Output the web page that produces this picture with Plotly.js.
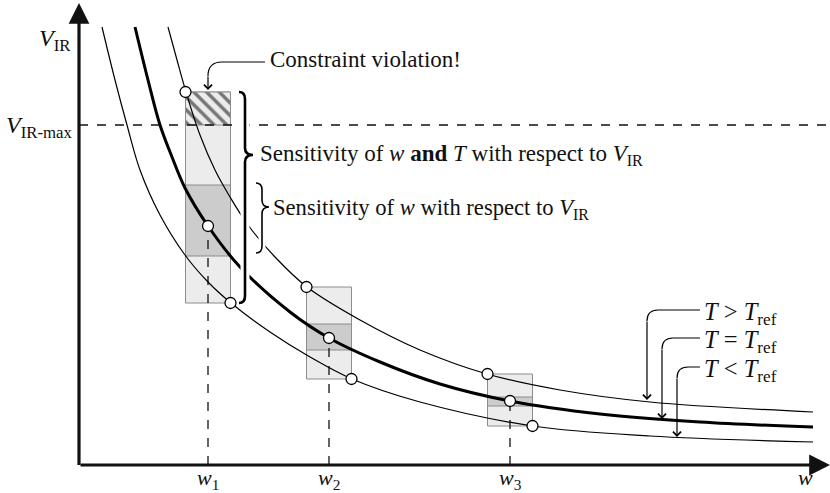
<!DOCTYPE html>
<html>
<head>
<meta charset="utf-8">
<script src="https://cdn.plot.ly/plotly-3.0.1.min.js"></script>
<style>html,body{margin:0;padding:0;background:#fff;}#chart{width:830px;height:493px;}</style>
</head>
<body>
<div id="chart"></div>
<script>
// ---- data (schematic units: w to the right, V_IR upwards) ----
var upperW = [89, 98, 107, 121, 136, 151, 169, 196, 228, 281, 341, 408, 481, 571, 734];
var upperV = [438, 405, 373, 330, 295, 268, 240, 208, 178, 145, 115, 91, 75, 63, 53];
var refW   = [56, 69, 81, 93, 106, 129, 161, 211, 250, 301, 361, 431, 521, 621, 734];
var refV   = [438, 385, 340, 308, 277, 239, 198, 153, 127, 103, 81, 64, 51, 43, 38];
var lowerW = [23, 36, 48, 61, 81, 106, 129, 152, 191, 231, 273, 341, 454, 571, 734];
var lowerV = [438, 385, 340, 295, 250, 210, 183, 162, 133, 108, 86, 63, 39, 29, 23];

var opW      = [129, 250, 431];          // w1, w2, w3
var opLabels = ['1', '2', '3'];
var boxHalf  = [22.5, 22.5, 22.5];
var ptUpper  = [373, 178, 91];           // T > Tref points
var ptRef    = [239, 127, 64];           // T = Tref points
var ptLower  = [162, 86, 39];            // T < Tref points
var darkHigh = [280, 141, 68];
var darkLow  = [209, 115, 59];
var vMax     = 340;                      // V_IR-max

var serif = 'Liberation Serif';
var traces = [];

// light boxes (whole sensitivity of w and T)
traces.push({type:'bar', x:opW, base:ptLower,
  y:ptUpper.map(function(u,i){return u-ptLower[i];}),
  width:boxHalf.map(function(h){return 2*h;}),
  marker:{color:'#ececec', line:{color:'#8c8c8c', width:1}}, hoverinfo:'skip', showlegend:false});
// dark boxes (sensitivity of w only)
traces.push({type:'bar', x:opW, base:darkLow,
  y:darkHigh.map(function(u,i){return u-darkLow[i];}),
  width:boxHalf.map(function(h){return 2*h;}),
  marker:{color:'#cbcccb', line:{color:'#8c8c8c', width:1}}, hoverinfo:'skip', showlegend:false});
// hatched constraint violation part (above V_IR-max)
var hatchX=[], hatchBase=[], hatchY=[], hatchWd=[];
ptUpper.forEach(function(u,i){ if(u>vMax){hatchX.push(opW[i]); hatchBase.push(vMax); hatchY.push(u-vMax); hatchWd.push(2*boxHalf[i]);} });
traces.push({type:'bar', x:hatchX, base:hatchBase, y:hatchY, width:hatchWd,
  marker:{color:'#ececec', line:{color:'#8c8c8c', width:1},
    pattern:{shape:'\\', fgcolor:'#000', size:9, solidity:0.38, fillmode:'overlay'}},
  hoverinfo:'skip', showlegend:false});

// dashed drop lines to the w axis
opW.forEach(function(w,i){
  traces.push({type:'scatter', mode:'lines', x:[w,w], y:[0,ptRef[i]],
    line:{color:'#111', width:1.3, dash:'dash'}, hoverinfo:'skip', showlegend:false});
});

// curves
traces.push({type:'scatter', mode:'lines', x:upperW, y:upperV, line:{color:'#000', width:1.2, shape:'spline', smoothing:1}, hoverinfo:'skip', showlegend:false});
traces.push({type:'scatter', mode:'lines', x:lowerW, y:lowerV, line:{color:'#000', width:1.2, shape:'spline', smoothing:1}, hoverinfo:'skip', showlegend:false});
traces.push({type:'scatter', mode:'lines', x:refW, y:refV, line:{color:'#000', width:3, shape:'spline', smoothing:1}, hoverinfo:'skip', showlegend:false});

// operating points
var mx=[], my=[];
opW.forEach(function(w,i){
  mx.push(w-boxHalf[i], w, w+boxHalf[i]);
  my.push(ptUpper[i], ptRef[i], ptLower[i]);
});
traces.push({type:'scatter', mode:'markers', x:mx, y:my,
  marker:{size:11, color:'#fff', line:{color:'#000', width:1.3}}, hoverinfo:'skip', showlegend:false});

// ---- shapes ----
function brace(x, top, bottom, tip, tipX){
  var r = 7;
  return 'M'+(x-6)+','+top+' Q'+x+','+top+' '+x+','+(top-r)+
         ' L'+x+','+(tip+r)+' Q'+x+','+tip+' '+tipX+','+tip+
         ' Q'+x+','+tip+' '+x+','+(tip-r)+
         ' L'+x+','+(bottom+r)+' Q'+x+','+bottom+' '+(x-6)+','+bottom;
}
var bigBrace = brace(166, ptUpper[0], ptLower[0], 310, 174);
var smallBrace = brace(183, darkHigh[0]+2, darkLow[0]+3, 258, 190);

var shapes = [
  {type:'line', xref:'x', yref:'y', x0:0, x1:751, y0:vMax, y1:vMax, line:{color:'#111', width:1.3, dash:'dash'}, layer:'above'},
  {type:'path', xref:'x', yref:'y', path:bigBrace, line:{color:'#fff', width:9}, layer:'above'},
  {type:'path', xref:'x', yref:'y', path:bigBrace, line:{color:'#000', width:2.6}, layer:'above'},
  {type:'path', xref:'x', yref:'y', path:smallBrace, line:{color:'#fff', width:7}, layer:'above'},
  {type:'path', xref:'x', yref:'y', path:smallBrace, line:{color:'#000', width:1.6}, layer:'above'},
  // constraint violation leader
  {type:'path', xref:'x', yref:'y', path:'M186,403 H143 Q'+opW[0]+',403 '+opW[0]+',389', line:{color:'#000', width:1.2}, layer:'above'}
];

// T leaders
var tLabelV = [155, 127, 98];
var tCornerW = [568, 583, 598];
var tTipV = [65, 46, 28];
tLabelV.forEach(function(v,i){
  var c = tCornerW[i];
  shapes.push({type:'path', xref:'x', yref:'y',
    path:'M621,'+v+' H'+(c+11)+' Q'+c+','+v+' '+c+','+(v-11),
    line:{color:'#000', width:1.2}, layer:'above'});
});

// ---- annotations ----
var ann = [];
// axes with arrowheads
ann.push({x:751, y:0, ax:0, ay:0, axref:'x', ayref:'y', xref:'x', yref:'y', text:'', showarrow:true,
  arrowhead:2, arrowsize:1.3, arrowwidth:3.2, arrowcolor:'#111', standoff:0, startstandoff:0});
ann.push({x:0, y:462, ax:0, ay:-1.5, axref:'x', ayref:'y', xref:'x', yref:'y', text:'', showarrow:true,
  arrowhead:2, arrowsize:1.3, arrowwidth:3.2, arrowcolor:'#111', standoff:0, startstandoff:0});
// leader arrows
ann.push({x:opW[0], y:375, ax:opW[0], ay:390, axref:'x', ayref:'y', xref:'x', yref:'y', text:'', showarrow:true,
  arrowhead:4, arrowsize:1.3, arrowwidth:1.2, arrowcolor:'#000'});
tLabelV.forEach(function(v,i){
  ann.push({x:tCornerW[i], y:tTipV[i], ax:tCornerW[i], ay:v-10, axref:'x', ayref:'y', xref:'x', yref:'y', text:'', showarrow:true,
    arrowhead:4, arrowsize:1.3, arrowwidth:1.2, arrowcolor:'#000'});
});
function txt(x,y,t,xa,size){
  return {x:x, y:y, xref:'x', yref:'y', text:t, showarrow:false, xanchor:xa||'left', yanchor:'middle',
    font:{family:serif, size:size||22, color:'#111'}};
}
ann.push(txt(-24, 425, '<i>V</i><sub>IR</sub>', 'center', 24));
ann.push(txt(-4, 338, '<i>V</i><sub>IR-max</sub>', 'right', 24));
ann.push(txt(189, 406, 'Constraint violation!', 'left', 23));
ann.push(txt(179, 310, 'Sensitivity of <i>w</i> <b>and</b> <i>T</i> with respect to <i>V</i><sub>IR</sub>', 'left', 23));
ann.push(txt(192, 256, 'Sensitivity of <i>w</i> with respect to <i>V</i><sub>IR</sub>', 'left', 22.6));
var tTexts = ['<i>T</i> &gt; <i>T</i><sub>ref</sub>', '<i>T</i> = <i>T</i><sub>ref</sub>', '<i>T</i> &lt; <i>T</i><sub>ref</sub>'];
tTexts.forEach(function(t,i){ ann.push(txt(623, tLabelV[i]-3, t, 'left', 24.5)); });
opW.forEach(function(w,i){ ann.push(txt(w, -14, '<i>w</i><sub>'+opLabels[i]+'</sub>', 'center', 22)); });
ann.push(txt(726, -12, '<i>w</i>', 'center', 22));

var layout = {
  width:830, height:493,
  margin:{l:0, r:0, t:0, b:0},
  paper_bgcolor:'#fff', plot_bgcolor:'#fff',
  barmode:'overlay', bargap:0,
  xaxis:{range:[-79, 751], visible:false, fixedrange:true},
  yaxis:{range:[-28, 465], visible:false, fixedrange:true},
  shapes:shapes, annotations:ann, showlegend:false
};
Plotly.newPlot('chart', traces, layout, {staticPlot:true, displayModeBar:false});
</script>
</body>
</html>
